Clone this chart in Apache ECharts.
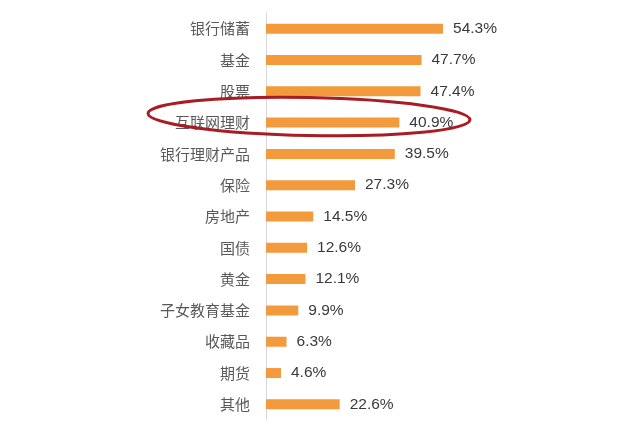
<!DOCTYPE html>
<html><head><meta charset="utf-8">
<script src="https://cdn.jsdelivr.net/npm/echarts@6/dist/echarts.min.js"></script>
<style>html,body{margin:0;padding:0;background:#fff}#c{width:640px;height:436px}</style>
</head><body><div id="c"></div>
<script>
const categories = ['银行储蓄','基金','股票','互联网理财','银行理财产品','保险','房地产','国债','黄金','子女教育基金','收藏品','期货','其他'];
const values = [54.3,47.7,47.4,40.9,39.5,27.3,14.5,12.6,12.1,9.9,6.3,4.6,22.6];
const highlighted = '互联网理财';

const chart = echarts.init(document.getElementById('c'));
chart.setOption({
  animation:false,
  grid:{left:266,top:13,width:326,height:407,containLabel:false},
  xAxis:{type:'value',min:0,max:100,show:false},
  yAxis:{type:'category',data:categories,inverse:true,
    axisLine:{show:true,lineStyle:{color:'#d9d9d9',width:1}},
    axisTick:{show:false},
    axisLabel:{color:'#595959',fontSize:15,margin:16,fontFamily:'Noto Sans CJK SC'}},
  series:[{type:'bar',data:values,barWidth:10,
    itemStyle:{color:'#F39A3D'},
    label:{show:true,position:'right',distance:10,formatter:'{c}%',color:'#3a3a3a',fontSize:15.5,fontFamily:'Arial, Liberation Sans'}}]
});
const p = chart.convertToPixel({xAxisIndex:0,yAxisIndex:0},[0,highlighted]);
chart.setOption({graphic:[{type:'ellipse',
  shape:{cx:p[0]+43,cy:p[1]-6,rx:161,ry:19},
  rotation:-0.02, originX:p[0]+43, originY:p[1]-6,
  style:{fill:'none',stroke:'#A81C24',lineWidth:3},z:100}]});
</script></body></html>
